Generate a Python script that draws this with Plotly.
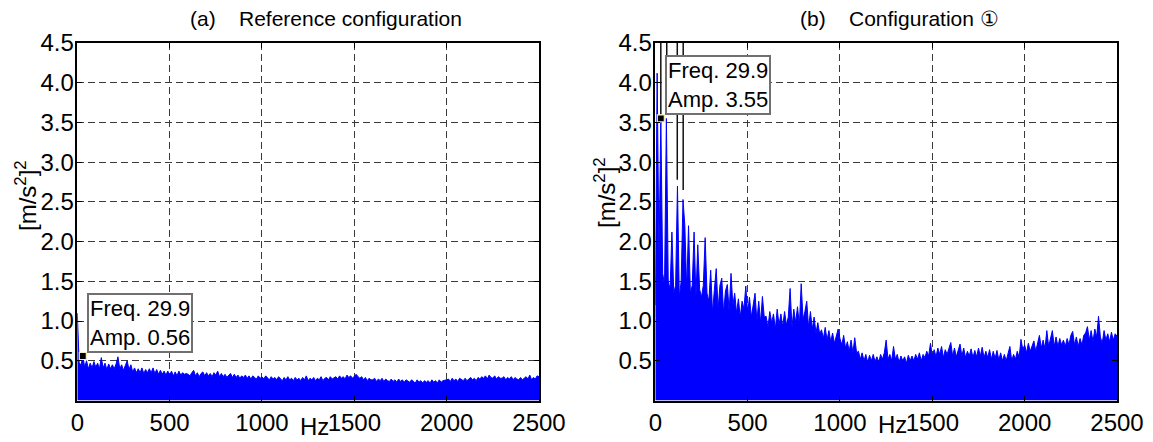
import plotly.graph_objects as go

# ---------------- data ----------------
freqs = list(range(0, 2501, 10))  # Hz

amp_a = (
    [1.10, 0.48, 0.44, 0.56, 0.42, 0.50, 0.40, 0.47, 0.41, 0.49]
    + [0.42, 0.47, 0.40, 0.54, 0.41, 0.47, 0.39, 0.46, 0.40, 0.45]
    + [0.40, 0.46, 0.55, 0.40, 0.45, 0.38, 0.44, 0.50, 0.39, 0.45]
    + [0.36, 0.41, 0.35, 0.40, 0.35, 0.41, 0.34, 0.39, 0.35, 0.40]
    + [0.35, 0.41, 0.34, 0.39, 0.33, 0.38, 0.33, 0.37, 0.32, 0.37]
    + [0.32, 0.37, 0.31, 0.36, 0.31, 0.37, 0.32, 0.35, 0.33, 0.34]
    + [0.33, 0.31, 0.35, 0.38, 0.31, 0.35, 0.30, 0.34, 0.36, 0.31]
    + [0.35, 0.31, 0.34, 0.30, 0.35, 0.32, 0.37, 0.30, 0.34, 0.30]
    + [0.33, 0.29, 0.32, 0.34, 0.29, 0.33, 0.29, 0.32, 0.28, 0.31]
    + [0.29, 0.32, 0.28, 0.31, 0.27, 0.31, 0.29, 0.27, 0.31, 0.28]
    + [0.30, 0.27, 0.31, 0.28, 0.26, 0.30, 0.27, 0.29, 0.26, 0.30]
    + [0.27, 0.25, 0.29, 0.26, 0.30, 0.26, 0.28, 0.25, 0.29, 0.26]
    + [0.28, 0.25, 0.29, 0.26, 0.31, 0.25, 0.28, 0.26, 0.29, 0.25]
    + [0.28, 0.26, 0.30, 0.25, 0.28, 0.29, 0.26, 0.30, 0.27, 0.29]
    + [0.30, 0.27, 0.31, 0.28, 0.30, 0.27, 0.32, 0.29, 0.31, 0.28]
    + [0.30, 0.33, 0.30, 0.28, 0.30, 0.26, 0.29, 0.25, 0.28, 0.26]
    + [0.26, 0.28, 0.24, 0.27, 0.25, 0.28, 0.24, 0.27, 0.25, 0.24]
    + [0.27, 0.24, 0.26, 0.23, 0.27, 0.24, 0.26, 0.23, 0.26, 0.24]
    + [0.23, 0.26, 0.24, 0.22, 0.26, 0.23, 0.25, 0.22, 0.25, 0.23]
    + [0.25, 0.22, 0.26, 0.23, 0.25, 0.22, 0.26, 0.23, 0.25, 0.26]
    + [0.26, 0.27, 0.24, 0.28, 0.25, 0.27, 0.24, 0.28, 0.27, 0.25]
    + [0.28, 0.25, 0.27, 0.29, 0.26, 0.28, 0.25, 0.29, 0.27, 0.30]
    + [0.28, 0.31, 0.27, 0.32, 0.29, 0.28, 0.31, 0.27, 0.30, 0.28]
    + [0.28, 0.30, 0.26, 0.29, 0.27, 0.30, 0.26, 0.29, 0.27, 0.26]
    + [0.29, 0.26, 0.28, 0.30, 0.27, 0.32, 0.26, 0.29, 0.27, 0.31]
    + [0.30]
)

amp_b = (
    [1.20, 4.12, 1.80, 3.55, 1.60, 1.45, 3.55, 1.50, 1.40, 2.12]
    + [1.35, 1.45, 2.70, 1.30, 1.50, 2.53, 2.20, 1.40, 2.20, 1.35]
    + [1.45, 2.12, 1.30, 1.96, 1.40, 1.30, 1.45, 2.05, 1.35, 1.25]
    + [1.64, 1.10, 1.40, 1.66, 1.15, 1.45, 1.54, 1.10, 1.38, 1.46]
    + [1.12, 1.60, 1.20, 1.35, 1.10, 1.28, 1.05, 1.25, 1.15, 1.44]
    + [1.10, 1.30, 1.05, 1.22, 1.35, 1.00, 1.25, 0.98, 1.31, 1.05]
    + [1.06, 0.92, 1.12, 0.98, 1.09, 0.90, 1.15, 0.95, 1.09, 0.93]
    + [1.12, 0.95, 1.05, 1.41, 0.92, 1.15, 0.98, 1.18, 0.95, 1.47]
    + [1.02, 1.12, 1.25, 0.92, 1.12, 0.90, 1.05, 0.85, 0.98, 0.84]
    + [0.89, 0.78, 0.92, 0.76, 0.88, 0.74, 0.85, 0.72, 0.80, 0.90]
    + [0.78, 0.70, 0.82, 0.66, 0.74, 0.62, 0.76, 0.60, 0.79, 0.60]
    + [0.62, 0.52, 0.60, 0.50, 0.58, 0.48, 0.57, 0.50, 0.58, 0.49]
    + [0.55, 0.48, 0.58, 0.52, 0.60, 0.76, 0.52, 0.58, 0.50, 0.68]
    + [0.52, 0.58, 0.48, 0.56, 0.50, 0.55, 0.47, 0.57, 0.50, 0.56]
    + [0.50, 0.58, 0.52, 0.60, 0.50, 0.58, 0.54, 0.62, 0.56, 0.72]
    + [0.56, 0.64, 0.55, 0.66, 0.58, 0.68, 0.54, 0.64, 0.58, 0.66]
    + [0.73, 0.56, 0.66, 0.55, 0.64, 0.71, 0.56, 0.66, 0.54, 0.62]
    + [0.56, 0.65, 0.54, 0.63, 0.55, 0.66, 0.56, 0.67, 0.54, 0.62]
    + [0.54, 0.64, 0.52, 0.62, 0.53, 0.63, 0.51, 0.60, 0.50, 0.58]
    + [0.50, 0.58, 0.68, 0.50, 0.58, 0.52, 0.62, 0.54, 0.77, 0.64]
    + [0.70, 0.60, 0.72, 0.62, 0.70, 0.75, 0.62, 0.72, 0.82, 0.66]
    + [0.76, 0.65, 0.88, 0.68, 0.78, 0.88, 0.68, 0.80, 0.68, 0.78]
    + [0.70, 0.76, 0.68, 0.78, 0.70, 0.82, 0.87, 0.70, 0.80, 0.68]
    + [0.78, 0.70, 0.82, 0.85, 0.93, 0.76, 0.88, 0.74, 0.90, 0.80]
    + [1.06, 0.80, 0.72, 0.88, 0.76, 0.84, 0.74, 0.86, 0.76, 0.84]
    + [0.81]
)

tip_freq = 29.9
tip_amp_a = 0.56
tip_amp_b = 3.55

# black vertical lines (clipped peaks) in panel (b)
black_freq_b = [29.9, 62, 119, 151]
black_low_b = [3.60, 3.60, 2.78, 2.65]

y_max = 4.5
x_max = 2500
ytick_vals = [0.5, 1.0, 1.5, 2.0, 2.5, 3.0, 3.5, 4.0, 4.5]
xtick_vals = [0, 500, 1000, 1500, 2000, 2500]

title_a = "(a)\u00a0\u00a0\u00a0\u00a0Reference configuration"
title_b = "(b)\u00a0\u00a0\u00a0\u00a0Configuration \u2460"
ylab = "[m/s<sup>2</sup>]<sup>2</sup>"
xlab = "Hz"

# ---------------- figure ----------------
# page body has an 8px margin: figure is drawn at (8, 8) in the window
OFF = 8
W, H = 1153 - OFF, 442 - OFF
FONT = "Liberation Sans, Arial, sans-serif"
BLUE = "#0000ff"


def px(xp):
    return (xp - OFF) / W


def py(yp):
    return 1 - (yp - OFF) / H


fig = go.Figure()

fig.add_trace(go.Scatter(x=freqs, y=amp_a, mode="lines", fill="tozeroy",
                         line=dict(color=BLUE, width=1), fillcolor=BLUE,
                         xaxis="x", yaxis="y", showlegend=False, hoverinfo="skip"))
fig.add_trace(go.Scatter(x=freqs, y=amp_b, mode="lines", fill="tozeroy",
                         line=dict(color=BLUE, width=1), fillcolor=BLUE,
                         xaxis="x2", yaxis="y2", showlegend=False, hoverinfo="skip"))

bx, by = [], []
for f, lo in zip(black_freq_b, black_low_b):
    bx += [f, f, None]
    by += [y_max, lo, None]
fig.add_trace(go.Scatter(x=bx, y=by, mode="lines", line=dict(color="#111111", width=1.5),
                         xaxis="x2", yaxis="y2", showlegend=False, hoverinfo="skip",
                         connectgaps=False))

for xa, ya, amp in (("x", "y", tip_amp_a), ("x2", "y2", tip_amp_b)):
    fig.add_trace(go.Scatter(x=[tip_freq], y=[amp], mode="markers",
                             marker=dict(symbol="square", size=7, color="black",
                                         line=dict(color="#f3efc4", width=1.2)),
                             xaxis=xa, yaxis=ya, showlegend=False, hoverinfo="skip"))
    fig.add_annotation(x=tip_freq, y=amp, xref=xa, yref=ya, showarrow=False,
                       xanchor="left", yanchor="bottom", xshift=4, yshift=3,
                       text=f"Freq. {tip_freq}<br>Amp. {amp:.2f}", align="left",
                       font=dict(family=FONT, size=22, color="black"),
                       bgcolor="white", bordercolor="#707070", borderwidth=2, borderpad=1)

dom_a = [px(77.3), px(539.0)]
dom_b = [px(655.3), px(1117.0)]
dom_y = [py(400.5), py(43.0)]

axis_common = dict(showline=True, linecolor="black", linewidth=1.5, mirror="allticks",
                   ticks="inside", ticklen=5, tickcolor="black", tickwidth=1,
                   showgrid=True, gridcolor="#3a3a3a", gridwidth=1, griddash="7px,4px",
                   zeroline=False, automargin=False,
                   tickfont=dict(family=FONT, size=24, color="black"))

xaxis_common = dict(axis_common, range=[0, x_max], tickvals=xtick_vals)
yaxis_common = dict(axis_common, range=[0, y_max], tickvals=ytick_vals, tickformat=".1f",
                    ticklabelstandoff=-3)

fig.update_layout(
    width=W, height=H,
    margin=dict(l=0, r=0, t=0, b=0),
    paper_bgcolor="white", plot_bgcolor="white",
    template="none",
    xaxis=dict(xaxis_common, domain=dom_a, anchor="y"),
    yaxis=dict(yaxis_common, domain=dom_y, anchor="x"),
    xaxis2=dict(xaxis_common, domain=dom_b, anchor="y2"),
    yaxis2=dict(yaxis_common, domain=dom_y, anchor="x2"),
)

# titles and axis labels (positioned in page pixel coordinates)
for text, cx in ((title_a, 325.5), (title_b, 899.5)):
    fig.add_annotation(x=px(cx), y=py(18), xref="paper", yref="paper", showarrow=False,
                       xanchor="center", yanchor="middle", text=text,
                       font=dict(family=FONT, size=21, color="black"))
for cx, cy in ((26, 196), (605, 193)):
    fig.add_annotation(x=px(cx), y=py(cy), xref="paper", yref="paper", showarrow=False,
                       xanchor="center", yanchor="middle", text=ylab, textangle=-90,
                       font=dict(family=FONT, size=24, color="black"))
for cx, cy in ((314, 426), (892, 424)):
    fig.add_annotation(x=px(cx), y=py(cy), xref="paper", yref="paper", showarrow=False,
                       xanchor="center", yanchor="middle", text=xlab,
                       font=dict(family=FONT, size=24, color="black"))

fig.write_html("out.html")
